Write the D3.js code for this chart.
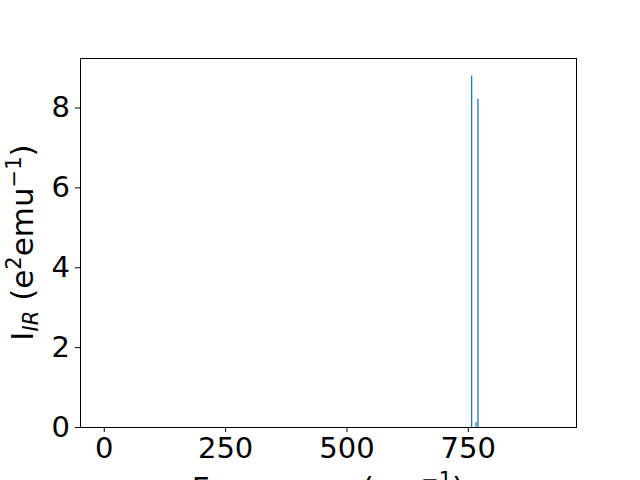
<!DOCTYPE html>
<html>
<head>
<meta charset="utf-8">
<script src="https://cdn.jsdelivr.net/npm/d3@7"></script>
<style>
  body { margin: 0; background: #fff; }
  text { font-family: "DejaVu Sans", sans-serif; }
</style>
</head>
<body>
<div id="canvas"></div>
<script>
const canvas = d3.select("#canvas");

// IR peaks: frequency (cm-1) and intensity
const freqs = [0, 758, 767, 771, 926];
const intensities = [0, 8.8, 0.12, 8.22, 0];
const xTicks = [0, 250, 500, 750];
const yTicks = [0, 2, 4, 6, 8];

const width = 640;
const height = 480;
const margin = { top: 58, left: 80, bottom: 53, right: 64 };
const iwidth = width - margin.left - margin.right;
const iheight = height - margin.top - margin.bottom;

const svg = canvas.append("svg")
  .attr("width", width)
  .attr("height", height);

const g = svg.append("g")
  .attr("transform", `translate(${margin.left},${margin.top})`);

const x = d3.scaleLinear()
  .domain([-49, 973])
  .range([0, iwidth]);

const y = d3.scaleLinear()
  .domain([0, 8.8 * 1.05])
  .range([iheight, 0]);

const barW = 2.6;

g.selectAll("rect.bar")
  .data(freqs.map((f, i) => ({ f, v: intensities[i] })).filter(d => d.v > 0))
  .enter()
  .append("rect")
  .attr("class", "bar")
  .style("fill", "#1f77b4")
  .attr("x", d => x(d.f - barW / 2))
  .attr("y", d => y(d.v))
  .attr("width", d => x(d.f + barW / 2) - x(d.f - barW / 2))
  .attr("height", d => iheight - y(d.v));

const xAxis = g.append("g")
  .attr("transform", `translate(0, ${iheight})`)
  .call(d3.axisBottom(x).tickValues(xTicks).tickSize(5).tickPadding(5));

const yAxis = g.append("g")
  .call(d3.axisLeft(y).tickValues(yTicks).tickSize(5).tickPadding(5));

[xAxis, yAxis].forEach(a => {
  a.select(".domain").remove();
  a.selectAll("text")
    .style("font-size", "29px")
    .style("font-family", "DejaVu Sans")
    .attr("fill", "#000");
  a.selectAll("line").attr("stroke", "#000").attr("stroke-width", 1);
});

g.append("rect")
  .attr("x", 0.5)
  .attr("y", 0.5)
  .attr("width", iwidth)
  .attr("height", iheight)
  .attr("fill", "none")
  .attr("stroke", "#000")
  .attr("stroke-width", 1)
  .attr("shape-rendering", "crispEdges");

// x label (cut off at bottom like the original)
const xl = svg.append("text")
  .attr("x", margin.left + iwidth / 2)
  .attr("y", 499)
  .attr("text-anchor", "middle")
  .style("font-size", "31px");
xl.append("tspan").text("Frequency (cm");
xl.append("tspan").attr("dy", -12).style("font-size", "21px").text("\u22121");
xl.append("tspan").attr("dy", 12).text(")");

// y label
const yl = svg.append("text")
  .attr("transform", `translate(33, ${margin.top + iheight / 2}) rotate(-90)`)
  .attr("text-anchor", "middle")
  .style("font-size", "31px");
yl.append("tspan").text("I");
yl.append("tspan").attr("dy", 5).style("font-size", "21px").style("font-style", "italic").text("IR");
yl.append("tspan").attr("dy", -5).text(" (e");
yl.append("tspan").attr("dy", -12).style("font-size", "21px").text("2");
yl.append("tspan").attr("dy", 12).text("emu");
yl.append("tspan").attr("dy", -12).style("font-size", "21px").text("\u22121");
yl.append("tspan").attr("dy", 12).text(")");
</script>
</body>
</html>
